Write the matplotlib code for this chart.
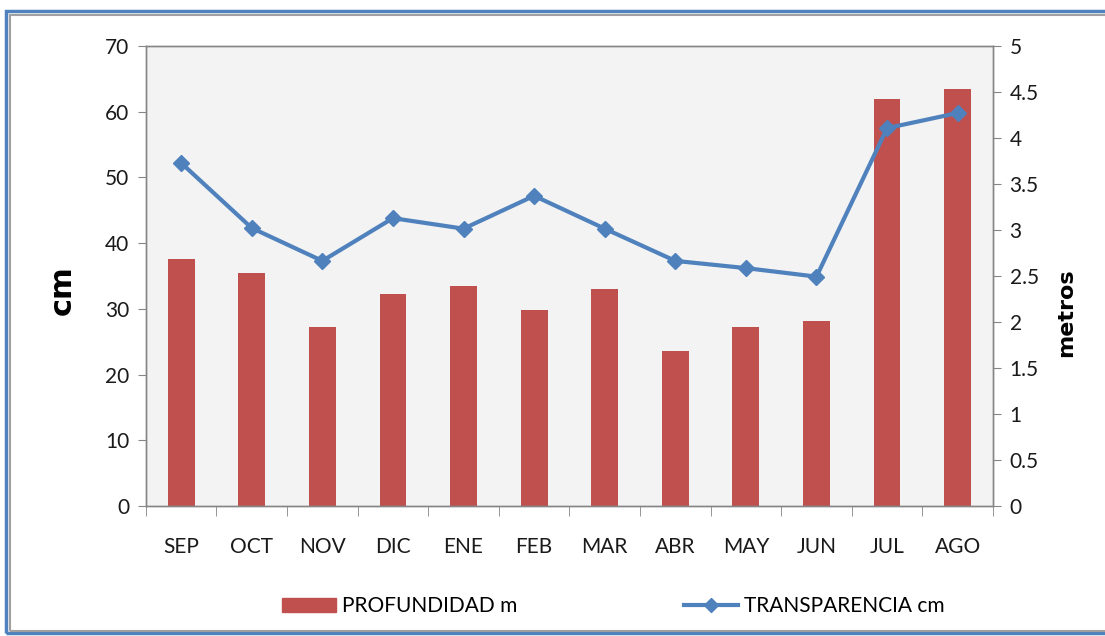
import matplotlib.pyplot as plt
from matplotlib.patches import Rectangle
from matplotlib.lines import Line2D
import numpy as np

plt.rcParams['font.family'] = ['Lato', 'DejaVu Sans']

meses = ['SEP', 'OCT', 'NOV', 'DIC', 'ENE', 'FEB', 'MAR', 'ABR', 'MAY', 'JUN', 'JUL', 'AGO']
profundidad_m = [2.68, 2.53, 1.95, 2.30, 2.39, 2.13, 2.36, 1.69, 1.95, 2.01, 4.42, 4.53]
transparencia_cm = [52.2, 42.3, 37.3, 43.8, 42.2, 47.2, 42.2, 37.3, 36.2, 34.9, 57.5, 59.8]

bar_color = '#c0504d'
line_color = '#4f81bd'
axis_color = '#868686'

fig = plt.figure(figsize=(11.05, 6.36), dpi=100)
fig.patch.set_facecolor('white')

# outer frame like the Excel chart border
fig.add_artist(Rectangle((0.005, 0.004), 1.2, 0.979, transform=fig.transFigure,
                         fill=False, edgecolor=line_color, lw=2.5))
fig.add_artist(Rectangle((0.009, 0.008), 1.2, 0.968, transform=fig.transFigure,
                         fill=False, edgecolor='#a0a0a0', lw=1.5))

ax = fig.add_axes([0.132, 0.2044, 0.7666, 0.7233])
ax2 = ax.twinx()

x = np.arange(len(meses))
ax2.bar(x, profundidad_m, width=0.38, color=bar_color, zorder=2)
ax.plot(x, transparencia_cm, color=line_color, lw=3, marker='D', markersize=8,
        zorder=3)
ax.set_zorder(ax2.get_zorder() + 1)
ax.patch.set_visible(False)
ax2.patch.set_facecolor('#f3f3f3')
ax2.patch.set_visible(True)

ax.set_xlim(-0.5, len(meses) - 0.5)
ax.set_ylim(0, 70)
ax.set_yticks(range(0, 71, 10))
ax2.set_ylim(0, 5)
ax2.set_yticks(np.arange(0, 5.01, 0.5))
ax2.set_yticklabels(['0', '0.5', '1', '1.5', '2', '2.5', '3', '3.5', '4', '4.5', '5'])

ax.set_xticks(x)
ax.set_xticklabels(meses)
ax.set_xticks(np.arange(-0.5, len(meses), 1), minor=True)
ax.tick_params(axis='x', which='major', length=0, pad=22, labelsize=15, labelcolor='#1a1a1a')
ax.tick_params(axis='x', which='minor', length=7, color=axis_color, direction='out')
ax.tick_params(axis='y', length=6, color=axis_color, labelsize=15, pad=6, labelcolor='#1a1a1a')
ax2.tick_params(axis='y', length=6, color=axis_color, labelsize=15, pad=6, labelcolor='#1a1a1a')

for a in (ax, ax2):
    for s in a.spines.values():
        s.set_color(axis_color)
        s.set_linewidth(1)

ax.set_ylabel('cm', fontsize=22, fontweight='bold', family='DejaVu Sans')
ax.yaxis.set_label_coords(-0.081, 0.47)
ax2.set_ylabel('metros', fontsize=16, fontweight='bold', family='DejaVu Sans')
ax2.yaxis.set_label_coords(1.075, 0.42)

handles = [Rectangle((0, 0), 1, 1, color=bar_color),
           Line2D([], [], color=line_color, lw=3, marker='D', markersize=7)]
fig.legend(handles, ['PROFUNDIDAD m', 'TRANSPARENCIA cm'], loc='center',
           bbox_to_anchor=(0.555, 0.047), ncol=2, frameon=False, fontsize=15,
           columnspacing=8, handlelength=2.6, handletextpad=0.3)

fig.savefig('out.png', dpi=100)
